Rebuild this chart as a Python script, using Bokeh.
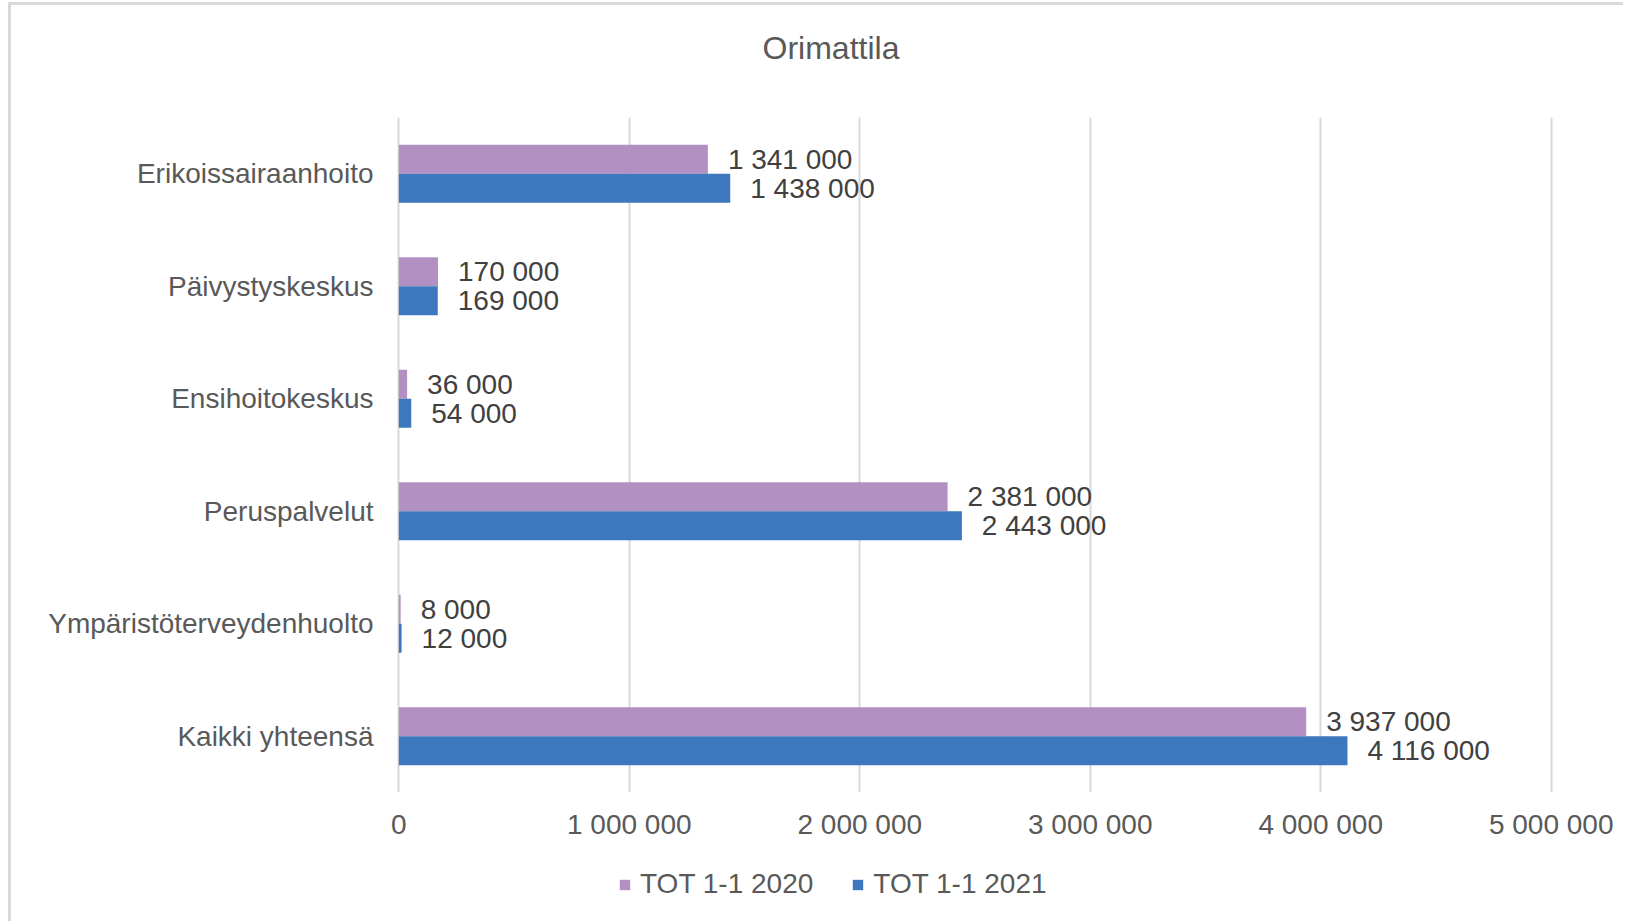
from bokeh.plotting import figure
from bokeh.layouts import column
from bokeh.models import (ColumnDataSource, FactorRange, Range1d, FixedTicker, LabelSet,
                          Legend, LegendItem)
from bokeh.transform import dodge
from bokeh.core.properties import value
from bokeh.embed import file_html
from bokeh.resources import INLINE

# ---- data ----
title_text = "Orimattila"
categories = ["Erikoissairaanhoito", "Päivystyskeskus", "Ensihoitokeskus",
              "Peruspalvelut", "Ympäristöterveydenhuolto", "Kaikki yhteensä"]
series_names = ["TOT 1-1 2020", "TOT 1-1 2021"]
values_2020 = [1341000, 170000, 36000, 2381000, 8000, 3937000]
values_2021 = [1438000, 169000, 54000, 2443000, 12000, 4116000]
tick_values = [0, 1000000, 2000000, 3000000, 4000000, 5000000]
tick_labels = ["0", "1 000 000", "2 000 000", "3 000 000", "4 000 000", "5 000 000"]

PURPLE = "#B290C2"
BLUE = "#3D77BD"
GRID = "#D9D9D9"
FONT = "Liberation Sans"
W = 1615
FL, FR = 385, 1542
TOP_H, MAIN_H, LEG_H = 115, 745, 59
BORDER = f"3px solid {GRID}"


def fmt(v):
    return f"{v:,}".replace(",", " ")


def bare(fig):
    fig.outline_line_color = None
    fig.background_fill_color = "white"
    fig.border_fill_color = "white"
    return fig


def strip(height, yr, styles):
    f = bare(figure(width=W, height=height, x_range=Range1d(FL, FR), y_range=yr,
                    x_axis_type=None, y_axis_type=None, title=None,
                    output_backend="svg", toolbar_location=None,
                    min_border_left=FL, min_border_right=W - FR,
                    min_border_top=0, min_border_bottom=0, styles=styles))
    f.xgrid.visible = False
    f.ygrid.visible = False
    return f


# ---- title strip ----
top = strip(TOP_H, Range1d(0, TOP_H),
            {"border-left": BORDER, "border-top": BORDER,
             "margin-top": "2px", "margin-left": "8px"})
top.text(x=[819.5], y=[72.5], text=[title_text], text_align="center", text_baseline="middle",
         text_font=value(FONT), text_font_size="32px", text_color="#595959")

# ---- main chart ----
src = ColumnDataSource(dict(
    cat=categories,
    v2020=values_2020,
    v2021=values_2021,
    l2020=[fmt(v) for v in values_2020],
    l2021=[fmt(v) for v in values_2021],
))

p = bare(figure(
    width=W, height=MAIN_H, title=None,
    y_range=FactorRange(factors=list(reversed(categories))),
    x_range=Range1d(-10000, 5010000),
    output_backend="svg", toolbar_location=None,
    min_border_left=FL, min_border_right=W - FR,
    min_border_top=0, min_border_bottom=70,
    styles={"border-left": BORDER, "margin-left": "8px"},
))

off = 0.129
bh = 0.258
p.hbar(y=dodge("cat", off, range=p.y_range), left=0, right="v2020", height=bh,
       source=src, fill_color=PURPLE, line_color=None)
p.hbar(y=dodge("cat", -off, range=p.y_range), left=0, right="v2021", height=bh,
       source=src, fill_color=BLUE, line_color=None)

for col, lab, d in (("v2020", "l2020", off), ("v2021", "l2021", -off)):
    p.add_layout(LabelSet(x=col, y=dodge("cat", d, range=p.y_range), text=lab, source=src,
                          x_offset=20, text_align="left", text_baseline="middle",
                          text_font=value(FONT), text_font_size="28px",
                          text_color="#404040"))

p.xaxis.ticker = FixedTicker(ticks=tick_values)
p.xaxis.major_label_overrides = {t: l for t, l in zip(tick_values, tick_labels)}
p.xaxis.major_label_text_font = FONT
p.xaxis.major_label_text_font_size = "28px"
p.xaxis.major_label_text_color = "#595959"
p.xaxis.major_label_standoff = 10
p.xaxis.axis_line_color = None
p.xaxis.major_tick_line_color = None
p.xaxis.minor_tick_line_color = None

p.yaxis.major_label_text_font = FONT
p.yaxis.major_label_text_font_size = "28px"
p.yaxis.major_label_text_color = "#595959"
p.yaxis.major_label_standoff = 17
p.yaxis.axis_line_color = None
p.yaxis.major_tick_line_color = None
p.yaxis.minor_tick_line_color = None

p.xgrid.grid_line_color = GRID
p.xgrid.grid_line_width = 2
p.ygrid.grid_line_color = None

# ---- legend strip ----
leg = strip(LEG_H, Range1d(0, 1), {"border-left": BORDER, "margin-left": "8px"})
# legend keys: renderers whose only point lies far outside the strip, so just the swatch shows
k1 = leg.hbar(y=[50], left=[FL - 5000], right=[FL - 4000], height=0.1,
              fill_color=PURPLE, line_color=None)
k2 = leg.hbar(y=[50], left=[FL - 5000], right=[FL - 4000], height=0.1,
              fill_color=BLUE, line_color=None)
legend = Legend(items=[LegendItem(label=series_names[0], renderers=[k1]),
                       LegendItem(label=series_names[1], renderers=[k2])],
                orientation="horizontal", location=(222, 21),
                glyph_width=13, glyph_height=13, label_standoff=9, spacing=38,
                padding=0, margin=0, border_line_color=None,
                background_fill_alpha=0,
                label_text_font=FONT, label_text_font_size="28px",
                label_text_color="#595959")
leg.add_layout(legend, "center")

layout = column(top, p, leg, spacing=0)
open("out.html", "w").write(file_html(layout, INLINE))
